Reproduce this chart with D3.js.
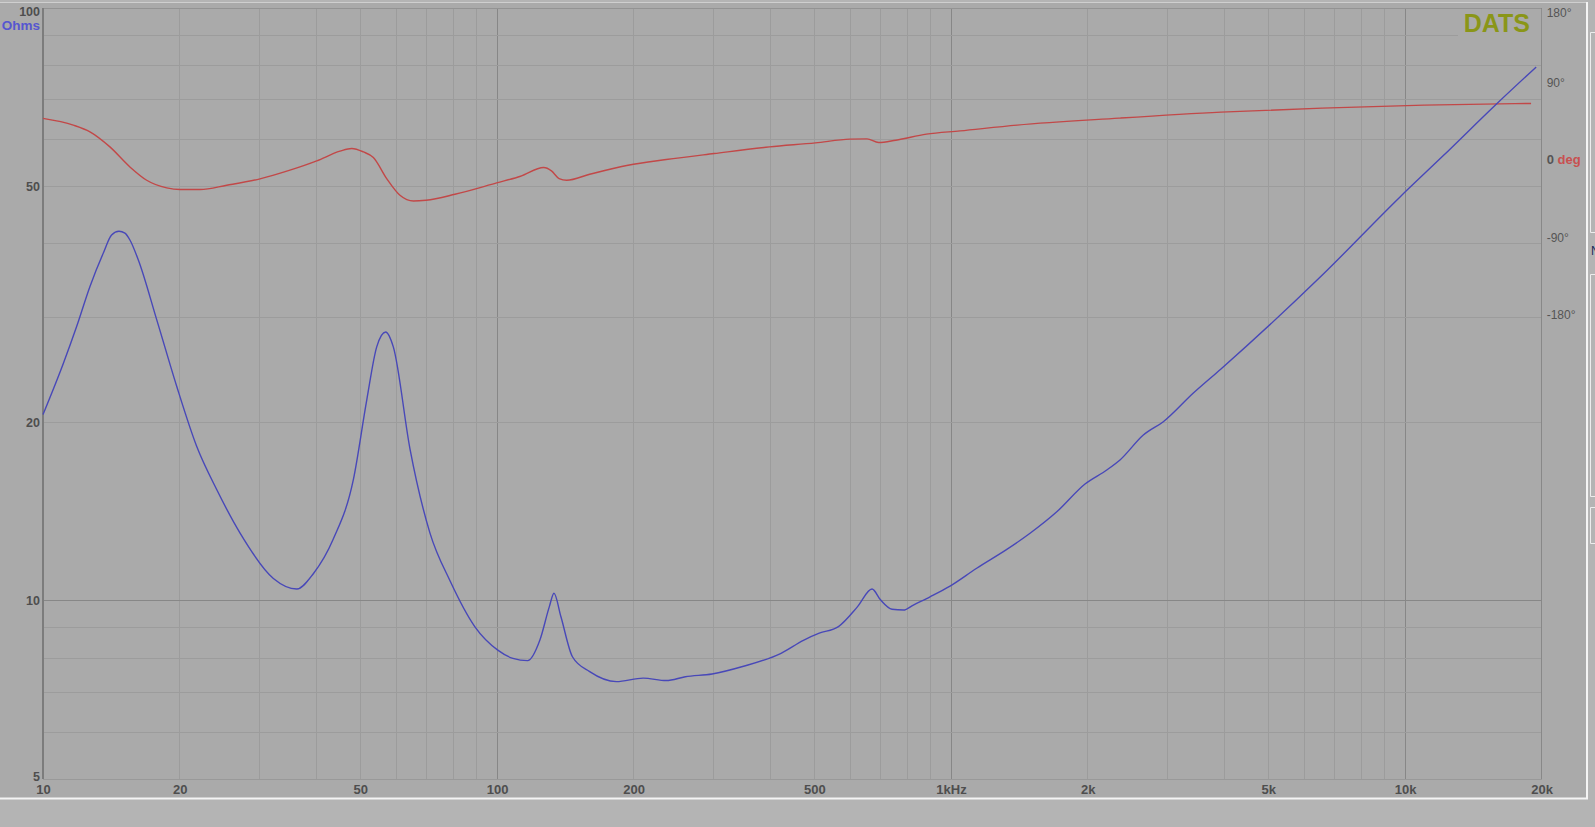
<!DOCTYPE html>
<html>
<head>
<meta charset="utf-8">
<script src="https://cdn.jsdelivr.net/npm/d3@7"></script>
<style>
  html, body { margin: 0; padding: 0; background: #b4b4b4; overflow: hidden; }
  svg { display: block; font-family: "Liberation Sans", Arial, sans-serif; }
</style>
</head>
<body>
<svg id="chart" width="1595" height="827"></svg>
<script>
// ---------- data ----------
const impFreq = [10.0, 11.08, 11.86, 12.69, 13.58, 14.16, 14.70, 15.15, 15.54, 16.21, 17.80, 19.70, 21.81, 24.13, 27.17, 32.17, 36.22, 39.39, 43.59, 48.26, 51.65, 54.33, 56.86, 59.10, 64.34, 71.18, 78.79, 89.33, 100.4, 108.4, 116.8, 124.3, 130.4, 133.5, 138.3, 146.6, 160.0, 183.2, 209.9, 235.9, 259.9, 297.7, 347.6, 422.3, 474.2, 512.6, 564.9, 622.5, 669.9, 699.4, 741.3, 785.6, 826, 899, 995, 1139, 1327, 1493, 1710, 1973, 2203, 2356, 2652, 2935, 3418, 3932, 6565, 9750, 12130, 15945, 19440];
const impOhms = [20.6, 25.1, 29.0, 33.9, 38.6, 41.4, 42.0, 41.7, 40.6, 37.6, 29.8, 23.0, 18.2, 15.4, 13.0, 10.9, 10.46, 11.1, 12.7, 16.0, 21.8, 26.8, 28.4, 26.8, 18.0, 13.0, 10.8, 9.04, 8.25, 7.99, 7.92, 8.58, 9.77, 10.29, 9.39, 8.04, 7.59, 7.30, 7.40, 7.33, 7.44, 7.52, 7.74, 8.15, 8.58, 8.81, 9.04, 9.77, 10.46, 10.03, 9.67, 9.64, 9.83, 10.15, 10.58, 11.34, 12.2, 12.99, 14.12, 15.73, 16.61, 17.27, 19.03, 20.04, 22.4, 24.6, 35.4, 48.0, 56.3, 69.0, 79.5];

const phaseFreq = [10.0, 11.66, 12.69, 14.04, 15.54, 16.92, 18.73, 20.04, 22.18, 25.39, 30.06, 34.99, 40.08, 45.10, 47.86, 50.77, 53.41, 57.15, 61.13, 65.48, 69.77, 80.8, 99.8, 112.7, 126.7, 131.8, 137.0, 142.4, 160.0, 194.3, 235.9, 300.6, 398.3, 502.7, 598.9, 653.1, 692.6, 755.5, 882.6, 1047, 1398, 2344, 3932, 6565, 11013, 18950];
const phaseDeg = [48.1, 40.3, 32.5, 15.0, -8.3, -23.8, -32.7, -34.6, -34.6, -29.6, -22.2, -12.1, -1.3, 10.0, 13.2, 9.2, 2.7, -21.8, -41.2, -47.9, -47.0, -40.1, -26.9, -19.1, -9.0, -12.9, -21.8, -23.8, -16.8, -6.3, 0.3, 7.3, 15.0, 19.7, 24.0, 24.3, 20.1, 22.8, 29.8, 33.6, 40.3, 48.4, 55.4, 60.1, 63.6, 65.5];

const freqTicks = [10, 20, 50, 100, 200, 500, 1000, 2000, 5000, 10000, 20000];
const freqTickLabels = ["10", "20", "50", "100", "200", "500", "1kHz", "2k", "5k", "10k", "20k"];
const ohmTicks = [5, 10, 20, 50, 100];
const ohmTickLabels = ["5", "10", "20", "50", "100"];
const phaseTicks = [180, 90, 0, -90, -180];
const phaseTickLabels = ["180°", "90°", "0", "-90°", "-180°"];
const freqGrid = [20, 30, 40, 50, 60, 70, 80, 90, 100, 200, 300, 400, 500, 600, 700, 800, 900, 1000, 2000, 3000, 4000, 5000, 6000, 7000, 8000, 9000, 10000];
const freqMajor = [100, 1000, 10000];
const ohmGrid = [6, 7, 8, 9, 10, 20, 30, 40, 50, 60, 70, 80, 90];
const ohmMajor = [10];

// ---------- layout ----------
const L = 43, R = 1541.7, T = 8, B = 779;
const svg = d3.select("#chart");

const x = d3.scaleLog().domain([10, 20000]).range([L, R]);
const y = d3.scaleLog().domain([5, 100]).range([B, T]);
const yp = d3.scaleLinear().domain([-180, 180]).range([314.6, 5]);

// background / frame
svg.append("rect").attr("x", 0).attr("y", 0).attr("width", 1595).attr("height", 827).attr("fill", "#b4b4b4");
svg.append("rect").attr("x", 0).attr("y", 3).attr("width", 1587).attr("height", 795).attr("fill", "#aaaaaa");
svg.append("line").attr("x1", 0).attr("x2", 1588).attr("y1", 2.5).attr("y2", 2.5).attr("stroke", "#cfcfcf").attr("stroke-width", 1);
svg.append("line").attr("x1", 1587).attr("x2", 1587).attr("y1", 2).attr("y2", 799).attr("stroke", "#f4f4f4").attr("stroke-width", 2);
svg.append("line").attr("x1", 0).attr("x2", 1588).attr("y1", 798.5).attr("y2", 798.5).attr("stroke", "#f4f4f4").attr("stroke-width", 2);

// right side partial panels
const side = svg.append("g").attr("stroke", "#ededed").attr("stroke-width", 1).attr("fill", "none");
[[32, 232], [274, 496], [507, 543]].forEach(([a, b]) => {
  side.append("path").attr("d", `M1596,${a + 0.5}H1590.5V${b + 0.5}H1596`);
});
svg.append("text").attr("x", 1591).attr("y", 255).attr("fill", "#1a2a5a").attr("font-size", 12).text("N");

// grid
const grid = svg.append("g").attr("shape-rendering", "crispEdges");
grid.selectAll("line.vx").data(freqGrid).join("line")
  .attr("x1", d => x(d)).attr("x2", d => x(d)).attr("y1", T).attr("y2", B)
  .attr("stroke", d => freqMajor.includes(d) ? "#878787" : "#9c9c9c").attr("stroke-width", 1);
grid.selectAll("line.hy").data(ohmGrid).join("line")
  .attr("x1", L).attr("x2", R).attr("y1", d => y(d)).attr("y2", d => y(d))
  .attr("stroke", d => ohmMajor.includes(d) ? "#878787" : "#9c9c9c").attr("stroke-width", 1);
// borders
grid.append("line").attr("x1", L).attr("x2", R).attr("y1", T).attr("y2", T).attr("stroke", "#939393");
grid.append("line").attr("x1", L).attr("x2", R).attr("y1", B).attr("y2", B).attr("stroke", "#999999");
grid.append("line").attr("x1", R).attr("x2", R).attr("y1", T).attr("y2", B).attr("stroke", "#888888");
grid.append("line").attr("x1", L).attr("x2", L).attr("y1", T).attr("y2", B).attr("stroke", "#7c7c7c").attr("stroke-width", 2);

// DATS badge (covers grid behind it)
svg.append("rect").attr("x", 1458).attr("y", T + 1).attr("width", R - 1458 - 0.5).attr("height", 31).attr("fill", "#aaaaaa");
svg.append("text").attr("x", 1530).attr("y", 31.7).attr("text-anchor", "end")
  .attr("font-size", 25).attr("font-weight", "bold").attr("fill", "#8a9618").text("DATS");

// curves
const impPts = impFreq.map((f, i) => [f, impOhms[i]]);
const phPts = phaseFreq.map((f, i) => [f, phaseDeg[i]]);
svg.append("path").datum(phPts)
  .attr("fill", "none").attr("stroke", "#c24848").attr("stroke-width", 1.4)
  .attr("d", d3.line().x(d => x(d[0])).y(d => yp(d[1])).curve(d3.curveMonotoneX));
svg.append("path").datum(impPts)
  .attr("fill", "none").attr("stroke", "#4848b8").attr("stroke-width", 1.4)
  .attr("d", d3.line().x(d => x(d[0])).y(d => y(d[1])).curve(d3.curveMonotoneX));

// axes
const xAxis = svg.append("g").attr("transform", `translate(0,${B})`)
  .call(d3.axisBottom(x).tickValues(freqTicks).tickSize(0).tickPadding(6)
    .tickFormat((d, i) => freqTickLabels[i]));
xAxis.select(".domain").remove();
xAxis.selectAll("text").attr("font-size", 13).attr("font-weight", "bold").attr("fill", "#4e4e4e")
  .attr("font-family", "'Liberation Sans', Arial, sans-serif");

const yAxis = svg.append("g").attr("transform", `translate(${L},0)`)
  .call(d3.axisLeft(y).tickValues(ohmTicks).tickSize(0).tickPadding(3)
    .tickFormat((d, i) => ohmTickLabels[i]));
yAxis.select(".domain").remove();
yAxis.selectAll("text").attr("font-size", 12.5).attr("font-weight", "bold").attr("fill", "#4e4e4e")
  .attr("font-family", "'Liberation Sans', Arial, sans-serif")
  .attr("y", d => d === 100 ? 3 : (d === 5 ? -3 : 0));

svg.append("text").attr("x", 40).attr("y", 30).attr("text-anchor", "end")
  .attr("font-size", 13.5).attr("font-weight", "bold").attr("fill", "#5656d0").text("Ohms");

const pAxis = svg.append("g").attr("transform", `translate(${R},0)`)
  .call(d3.axisRight(yp).tickValues(phaseTicks).tickSize(0).tickPadding(5)
    .tickFormat((d, i) => phaseTickLabels[i]));
pAxis.select(".domain").remove();
pAxis.selectAll("text").attr("font-size", 12).attr("fill", "#555555")
  .attr("font-family", "'Liberation Sans', Arial, sans-serif")
  .attr("y", d => d === 180 ? 8 : 0);
pAxis.selectAll(".tick").filter(d => d === 0).select("text")
  .attr("font-weight", "bold").attr("font-size", 13)
  .append("tspan").attr("fill", "#c85050").text(" deg");
</script>
</body>
</html>
